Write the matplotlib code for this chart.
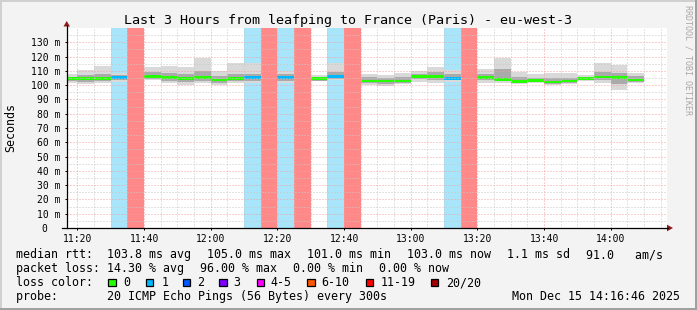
import matplotlib
matplotlib.use("Agg")
import matplotlib.pyplot as plt
from matplotlib.patches import Rectangle, Polygon
import numpy as np

plt.rcParams["font.family"] = "DejaVu Sans Mono"

W, H = 697, 310

# 5 minute bins (start time), loss class, median rtt and smoke ranges in ms
bin_start = ["11:15", "11:20", "11:25", "11:30", "11:35", "11:40", "11:45",
             "11:50", "11:55", "12:00", "12:05", "12:10", "12:15", "12:20",
             "12:25", "12:30", "12:35", "12:40", "12:45", "12:50", "12:55",
             "13:00", "13:05", "13:10", "13:15", "13:20", "13:25", "13:30",
             "13:35", "13:40", "13:45", "13:50", "13:55", "14:00", "14:05"]
loss_class = ["0", "0", "0", "1", "11-19", "0", "0",
              "0", "0", "0", "0", "1", "11-19", "1",
              "11-19", "0", "1", "11-19", "0", "0", "0",
              "0", "0", "1", "11-19", "0", "0", "0",
              "0", "0", "0", "0", "0", "0", "0"]
median_rtt = [104.5, 104.5, 104.5, 105.5, np.nan, 106.0, 105.5,
              104.5, 105.5, 103.6, 104.5, 105.5, np.nan, 105.5,
              np.nan, 104.5, 105.9, np.nan, 103.0, 103.0, 103.0,
              105.9, 105.9, 104.8, np.nan, 105.5, 104.1, 102.7,
              103.1, 102.2, 102.9, 104.5, 105.7, 105.5, 103.6]
smoke_lo = [101.3, 100.8, 101.3, 102.4, np.nan, 103.6, 101.3,
            100.1, 101.7, 100.1, 101.7, 101.7, np.nan, 101.7,
            np.nan, 102.7, 103.6, np.nan, 100.0, 99.4, 100.8,
            102.4, 101.7, 102.4, np.nan, 101.7, 101.7, 100.8,
            101.7, 100.1, 100.8, 103.0, 101.7, 96.6, 101.7]
smoke_hi = [107.8, 110.6, 113.6, 108.3, np.nan, 112.9, 113.4,
            112.5, 118.8, 109.9, 115.3, 115.3, np.nan, 110.1,
            np.nan, 106.9, 115.3, np.nan, 107.8, 107.0, 108.7,
            110.1, 112.9, 110.6, np.nan, 111.0, 118.8, 109.2,
            107.8, 108.3, 108.3, 107.0, 115.7, 114.0, 108.5]
core_lo = [102.8, 102.0, 102.8, 103.5, np.nan, 104.0, 103.0,
           102.0, 103.0, 101.5, 102.8, 103.0, np.nan, 102.8,
           np.nan, 103.2, 104.0, np.nan, 101.5, 101.0, 101.8,
           104.0, 103.5, 103.5, np.nan, 103.5, 102.8, 101.5,
           102.0, 101.0, 101.5, 103.5, 103.5, 100.5, 102.5]
core_hi = [106.0, 107.0, 107.5, 107.0, np.nan, 109.0, 108.5,
           107.5, 110.0, 106.5, 108.0, 108.0, np.nan, 108.0,
           np.nan, 105.8, 109.0, np.nan, 105.5, 105.0, 105.5,
           108.0, 109.0, 108.0, np.nan, 108.0, 111.0, 106.0,
           105.0, 105.0, 105.0, 106.0, 109.0, 108.5, 106.5]

loss_names = ["0", "1", "2", "3", "4-5", "6-10", "11-19", "20/20"]
loss_colors = ["#26ff00", "#00b8ff", "#0059ff", "#7e00ff", "#ff00ff",
               "#ff5500", "#ff0000", "#a10000"]
stripe_colors = {"1": "#a8e4fa", "11-19": "#ff8888"}

y_labels = ["130 m", "120 m", "110 m", "100 m", "90 m", "80 m", "70 m",
            "60 m", "50 m", "40 m", "30 m", "20 m", "10 m", "0  "]
x_labels = ["11:20", "11:40", "12:00", "12:20", "12:40", "13:00",
            "13:20", "13:40", "14:00"]

# legend lines (rrdtool gprint items)
rtt_items = ["median rtt:  103.8 ms avg", "105.0 ms max", "101.0 ms min",
             "103.0 ms now", "1.1 ms sd", "91.0   am/s"]
loss_items = ["packet loss: 14.30 % avg", "96.00 % max", "0.00 % min",
              "0.00 % now"]
probe_text = "probe:       20 ICMP Echo Pings (56 Bytes) every 300s"
stamp_text = "Mon Dec 15 14:16:46 2025"


def t2m(s):
    h, m = s.split(":")
    return int(h) * 60 + int(m) - 11 * 60


x0 = np.array([t2m(s) for s in bin_start], dtype=float)
med = np.array(median_rtt)
lo, hi = np.array(smoke_lo), np.array(smoke_hi)
clo, chi = np.array(core_lo), np.array(core_hi)
ok = ~np.isnan(med)

xmin = t2m("11:16") + 46 / 60.0
xmax = xmin + 180

fig = plt.figure(figsize=(W / 100, H / 100), dpi=100, facecolor="#f3f3f3")
L, R, T, B = 66.7, 666.7, 28, 228
ax = fig.add_axes([L / W, 1 - B / H, (R - L) / W, (B - T) / H])
ax.set_facecolor("white")
ax.set_xlim(xmin, xmax)
ax.set_ylim(0, 140)
for s in ax.spines.values():
    s.set_visible(False)

# loss stripes
for i, lc in enumerate(loss_class):
    if lc in stripe_colors:
        ax.axvspan(x0[i], x0[i] + 5, color=stripe_colors[lc], lw=0, zorder=1)

# smoke + median
ax.bar(x0[ok], hi[ok] - lo[ok], bottom=lo[ok], width=5, align="edge",
       color="#d9d9d9", linewidth=0, zorder=2)
ax.bar(x0[ok], chi[ok] - clo[ok], bottom=clo[ok], width=5, align="edge",
       color="#aaaaaa", linewidth=0, zorder=2.1)
med_cols = [loss_colors[loss_names.index(c)] for c in np.array(loss_class)[ok]]
ax.bar(x0[ok], 1.8, bottom=med[ok] - 0.9, width=5, align="edge",
       color=med_cols, linewidth=0, zorder=2.2)

# grid
dot = (0, (1, 2))
minor_y = [v for v in range(5, 140, 5) if v % 10]
major_y = list(range(10, 140, 10))
ax.hlines(minor_y, xmin, xmax, colors="#c8c8c8", linestyles=dot, lw=0.72, zorder=3)
ax.hlines(major_y, xmin, xmax, colors="#f4a0a0", linestyles=dot, lw=0.72, zorder=3)
major_x = [t2m(s) for s in x_labels]
minor_x = [m for m in range(20, 197, 5) if m not in major_x]
ax.vlines(minor_x, 0, 140, colors="#c8c8c8", linestyles=dot, lw=0.72, zorder=3)
ax.vlines(major_x, 0, 140, colors="#f4a0a0", linestyles=dot, lw=0.72, zorder=3)

ax.set_yticks(list(range(130, -1, -10)))
ax.set_yticklabels(y_labels)
ax.set_xticks(major_x)
ax.set_xticklabels(x_labels)
ax.tick_params(axis="y", length=1.5, width=0.72, labelsize=7, pad=3.3)
ax.tick_params(axis="x", length=1.5, width=0.72, labelsize=7, pad=2.5)

# overlay in pixel coordinates
ov = fig.add_axes([0, 0, 1, 1])
ov.set_xlim(0, W)
ov.set_ylim(H, 0)
ov.axis("off")
ov.patch.set_alpha(0)

ov.plot([0, W], [1, 1], color="#d0d0d0", lw=1.44)
ov.plot([1, 1], [0, H], color="#d0d0d0", lw=1.44)
ov.plot([0, W], [H - 1, H - 1], color="#a0a0a0", lw=1.44)
ov.plot([W - 1, W - 1], [0, H], color="#a0a0a0", lw=1.44)

ov.plot([L, L], [B, 26], color="black", lw=0.9)
ov.plot([62, 668], [B, B], color="black", lw=0.9)
ov.add_patch(Polygon([[63.5, 26.5], [70, 26.5], [66.7, 21]], closed=True,
                     color="#8b1a1a", lw=0))
ov.add_patch(Polygon([[667, 224.7], [667, 231.3], [673, 228]], closed=True,
                     color="#8b1a1a", lw=0))

ov.text(347.5, 24, "Last 3 Hours from leafping to France (Paris) - eu-west-3",
        fontsize=9.6, ha="center", va="baseline")
ov.text(11, 128, "Seconds", fontsize=8.4, rotation=90, ha="center", va="center")
ov.text(688, 5, "RRDTOOL / TOBI OETIKER", fontsize=6, rotation=270,
        ha="center", va="top", color="#a8a8a8")

fs = 8.4
cw = 7.02    # monospace advance in px
gap = 15.8   # rrdtool spacing between legend items


def legend_row(items, yb):
    xx = 16
    for txt in items:
        ov.text(xx, yb, txt, fontsize=fs, ha="left", va="baseline")
        xx += len(txt) * cw + gap


legend_row(rtt_items, 258.3)
legend_row(loss_items, 272.3)
ov.text(16, 300, probe_text, fontsize=fs, ha="left", va="baseline")
ov.text(680.5, 300, stamp_text, fontsize=fs, ha="right", va="baseline")

ov.text(16, 286.3, "loss color:", fontsize=fs, ha="left", va="baseline")
sw_x = [108.3, 145.7, 182.7, 219.3, 256.7, 307.3, 365.7, 430.7]
lab_x = [123.3, 161.7, 196.7, 233.3, 270.7, 321.7, 380.7, 446]
for name, col, sx, lx in zip(loss_names, loss_colors, sw_x, lab_x):
    ov.add_patch(Rectangle((sx, 278.8), 7.2, 7.2, facecolor=col,
                           edgecolor="black", lw=0.9))
    ov.text(lx, 286.3, name, fontsize=fs, ha="left", va="baseline")

fig.savefig("out.png", dpi=100, facecolor=fig.get_facecolor())
